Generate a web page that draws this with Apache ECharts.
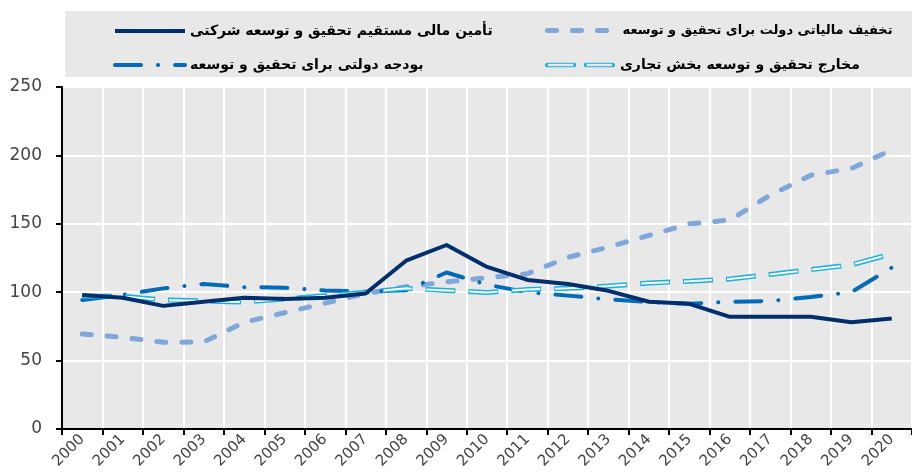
<!DOCTYPE html>
<html><head><meta charset="utf-8">
<script src="https://cdn.jsdelivr.net/npm/echarts@6/dist/echarts.min.js"></script>
<style>html,body{margin:0;padding:0;background:#fff}#c{width:912px;height:475px}</style>
</head><body><div id="c"></div>
<script>
const years = ['2000','2001','2002','2003','2004','2005','2006','2007','2008','2009','2010','2011','2012','2013','2014','2015','2016','2017','2018','2019','2020'];
const yTicks = [0, 50, 100, 150, 200, 250];
const nameDirect = 'تأمین مالی مستقیم تحقیق و توسعه شرکتی';
const nameTax = 'تخفیف مالیاتی دولت برای تحقیق و توسعه';
const nameBudget = 'بودجه دولتی برای تحقیق و توسعه';
const nameBerd = 'مخارج تحقیق و توسعه بخش تجاری';
const directFunding = [98, 96, 90, 93, 96, 95, 96, 99, 123, 134.5, 118.5, 109, 106, 101, 93, 91.5, 82, 82, 82, 78, 80.7];
const taxIncentives = [69.5, 67, 63.4, 63.6, 78, 85, 92, 99, 104, 107.5, 110.5, 113.5, 125.5, 133, 141.5, 150, 152.8, 171, 185.5, 190.5, 204];
const govBudget = [94.3, 98, 102.8, 106, 103.7, 103.3, 101.2, 100.5, 101.5, 114.4, 105.5, 100, 97.5, 94.8, 92.8, 91.5, 93, 93.6, 96.5, 100, 118];
const berd = [97, 97, 94.3, 93.6, 92.8, 95, 97.4, 100, 102.8, 101.3, 99.8, 102, 102.8, 104.5, 106.7, 108, 109.6, 113, 116.5, 120, 128];

const FONT = 'DejaVu Sans';
const chart = echarts.init(document.getElementById('c'), null, {renderer: 'canvas'});
const legendText = (size) => ({fontFamily: FONT, fontWeight: 'bold', fontSize: size, color: '#000'});
const cyanIcon = 'path://M1,0 H29 A2,2 0 0 1 29,5 H1 A2,2 0 0 1 1,0 Z M1.5,1.3 V3.7 H28.5 V1.3 Z M42,0 H70 A2,2 0 0 1 70,5 H42 A2,2 0 0 1 42,0 Z M42.5,1.3 V3.7 H69.5 V1.3 Z';
const lg = (name, left, top, size) => ({
  data: [name], left: left, top: top, itemWidth: 70, itemHeight: 14, itemGap: 8,
  textStyle: legendText(size), itemStyle: {opacity: 0}, lineStyle: {width: 'inherit'}
});
chart.setOption({
  animation: false,
  backgroundColor: '#fff',
  graphic: [
    {type: 'rect', shape: {x: 65, y: 11, width: 860, height: 66}, style: {fill: '#e8e8e8'}}
  ],
  legend: [
    lg(nameDirect, 108, 19, 14),
    lg(nameTax, 540, 19, 13),
    lg(nameBudget, 108, 53, 14),
    {data: [{name: nameBerd, icon: cyanIcon}], left: 540, top: 53, itemWidth: 70, itemHeight: 14, itemGap: 8, textStyle: legendText(14)}
  ],
  grid: {left: 62, right: -6, top: 87, bottom: 46, containLabel: false, show: true, backgroundColor: '#e8e8e8', borderWidth: 0},
  xAxis: {
    type: 'category', data: years, boundaryGap: true,
    axisLine: {lineStyle: {color: '#000', width: 2}},
    axisTick: {show: true, length: 6, lineStyle: {color: '#000', width: 2}},
    splitLine: {show: true, lineStyle: {color: '#fff', width: 2}},
    axisLabel: {rotate: 45, fontFamily: FONT, fontSize: 15, color: '#444', margin: 8}
  },
  yAxis: {
    type: 'value', min: 0, max: 250, interval: 50,
    axisLine: {show: true, lineStyle: {color: '#000', width: 2}},
    axisTick: {show: true, length: 6, lineStyle: {color: '#000', width: 2}},
    splitLine: {show: true, lineStyle: {color: '#fff', width: 2}},
    axisLabel: {fontFamily: FONT, fontSize: 17, color: '#444', margin: 20,
      formatter: v => yTicks.includes(v) ? String(v) : ''}
  },
  series: [
    {name: nameTax, type: 'line', data: taxIncentives, symbol: 'none', z: 2,
      itemStyle: {color: '#7fa7da'},
      lineStyle: {color: '#7fa7da', width: 5, type: [9, 16], cap: 'round'}},
    {name: nameBudget, type: 'line', data: govBudget, symbol: 'none', z: 3,
      itemStyle: {color: '#006bb6'},
      lineStyle: {color: '#006bb6', width: 4, type: [26, 17, 0.1, 17], cap: 'round'}},
    {name: nameBerd, type: 'line', data: berd, symbol: 'none', z: 4,
      itemStyle: {color: '#1ab2da'},
      lineStyle: {color: '#1ab2da', width: 5, type: [30, 13], cap: 'butt'}},
    {name: nameBerd, type: 'line', data: berd, symbol: 'none', z: 5, silent: true,
      itemStyle: {color: '#1ab2da'},
      lineStyle: {color: '#ffffff', width: 2, type: [28, 15], dashOffset: -1, cap: 'butt'}},
    {name: nameDirect, type: 'line', data: directFunding, symbol: 'none', z: 6,
      itemStyle: {color: '#002f6c'},
      lineStyle: {color: '#002f6c', width: 4, join: 'round'}}
  ]
});
</script></body></html>
